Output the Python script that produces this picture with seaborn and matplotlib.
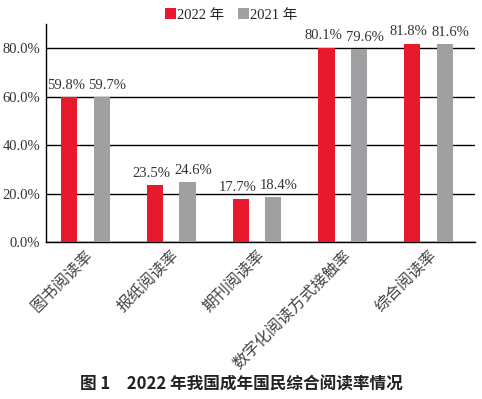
import matplotlib
matplotlib.use("Agg")
import matplotlib.pyplot as plt
import seaborn as sns
import pandas as pd
from matplotlib.patches import Patch

categories = ["图书阅读率", "报纸阅读率", "期刊阅读率", "数字化阅读方式接触率", "综合阅读率"]
values_2022 = [59.8, 23.5, 17.7, 80.1, 81.8]
values_2021 = [59.7, 24.6, 18.4, 79.6, 81.6]
series = ["2022 年", "2021 年"]
yticks = [0, 20, 40, 60, 80]
title = "图 1　2022 年我国成年国民综合阅读率情况"

sns.set_theme(style="white")
plt.rcParams['font.family'] = ['Liberation Serif', 'Noto Sans CJK SC', 'DejaVu Sans']

df = pd.DataFrame({
    "cat": categories * 2,
    "year": [series[0]] * len(categories) + [series[1]] * len(categories),
    "val": values_2022 + values_2021,
})

colors = {series[0]: "#E8192C", series[1]: "#A0A0A3"}
textc = "#333333"
serif = ['Liberation Serif', 'Noto Sans CJK SC']

fig = plt.figure(figsize=(4.82, 3.99), dpi=100)
ax = fig.add_axes([0.0954, 0.3935, 0.890, 0.5465])
ax.yaxis.grid(True, color="black", linewidth=1.0, zorder=0)
ax.set_axisbelow(True)
sns.barplot(data=df, x="cat", y="val", hue="year", palette=colors,
            width=0.76, gap=0.5, ax=ax, legend=False, saturation=1,
            linewidth=0, edgecolor="none", zorder=3)

offsets = [-2.5, 4.0]
for cont, dx in zip(ax.containers, offsets):
    for bar, v in zip(cont.patches, cont.datavalues):
        ax.annotate(f"{v:.1f}%", xy=(bar.get_x() + bar.get_width() / 2, bar.get_height()),
                    xytext=(dx, 4), textcoords="offset points",
                    ha="center", va="bottom", fontsize=10.5, color=textc,
                    family=serif)

ax.set_ylim(0, 90)
ax.set_yticks(yticks)
ax.set_yticklabels([f"{v:.1f}%" for v in yticks], fontsize=10.5, color=textc,
                   family=serif)
ax.set_xlim(-0.46, 4.54)
ax.set_xlabel("")
ax.set_ylabel("")
ax.tick_params(axis="both", length=0, pad=4)
ax.set_xticks(range(len(categories)))
ax.set_xticklabels(categories, rotation=45, ha="right", rotation_mode="anchor",
                   fontsize=11.5, color="#444444",
                   family=['Noto Sans CJK SC', 'DejaVu Sans'])
for s in ["top", "right"]:
    ax.spines[s].set_visible(False)
for s in ["left", "bottom"]:
    ax.spines[s].set_color("black")
    ax.spines[s].set_linewidth(1.0)

handles = [Patch(facecolor=colors[s], edgecolor="none") for s in series]
fig.legend(handles, series, loc="center", bbox_to_anchor=(0.48, 0.962), ncol=2,
           frameon=False, handlelength=0.75, handleheight=0.75,
           handletextpad=0.1, columnspacing=0.9,
           prop={'family': serif, 'size': 10.5})

fig.text(0.5, 0.035, title, ha="center", va="center", fontsize=12,
         color="#222222", fontweight="bold",
         family=['Noto Sans CJK SC', 'DejaVu Sans'])

fig.savefig("out.png", dpi=100)
